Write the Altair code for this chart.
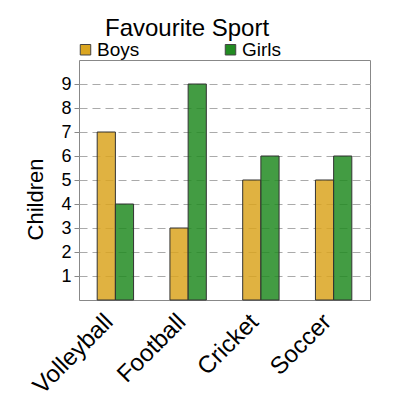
import altair as alt
import pandas as pd

sports = ["Volleyball", "Football", "Cricket", "Soccer"]
boys = [7, 3, 5, 5]
girls = [4, 9, 6, 6]
groups = ["Boys", "Girls"]
y_ticks = [1, 2, 3, 4, 5, 6, 7, 8, 9]

rows = []
for sport, b, g in zip(sports, boys, girls):
    rows.append({"Sport": sport, "Group": "Boys", "Children": b})
    rows.append({"Sport": sport, "Group": "Girls", "Children": g})
df = pd.DataFrame(rows)

font = "Liberation Sans"

chart = alt.Chart(df).mark_bar(
    fillOpacity=0.85, stroke="#333333", strokeWidth=1
).encode(
    x=alt.X("Sport:N", sort=sports, title=None,
            scale=alt.Scale(paddingInner=0.5, paddingOuter=0.25),
            axis=alt.Axis(labelAngle=-45, labelAlign="right", labelBaseline="middle",
                          labelFontSize=24, labelColor="black", labelPadding=18,
                          labelOffset=-6, labelBound=False,
                          ticks=False, domain=False, labelFont=font)),
    xOffset=alt.XOffset("Group:N", sort=groups),
    y=alt.Y("Children:Q", title="Children",
            scale=alt.Scale(domain=[0, 10], nice=False),
            axis=alt.Axis(values=y_ticks, labelFontSize=18, labelColor="black",
                          labelFont=font, tickSize=5, tickColor="#888888",
                          domain=False, labelPadding=3,
                          grid=True, gridDash=[8, 5], gridColor="#aaaaaa", gridWidth=1.2,
                          titleFontSize=22, titleFont=font, titleFontWeight="normal",
                          titleColor="black", titleAngle=-90, titleX=-44, titleY=139,
                          titleBaseline="middle", titleAlign="center")),
    color=alt.Color("Group:N", sort=groups,
                    scale=alt.Scale(domain=groups, range=["#DAA520", "#228B22"]),
                    legend=alt.Legend(title=None, orient="none", direction="horizontal",
                                      legendX=-3, legendY=-20, symbolType="square",
                                      symbolSize=110, symbolStrokeColor="#444444",
                                      symbolStrokeWidth=1, symbolOpacity=1,
                                      labelFontSize=19, labelFont=font, labelColor="black",
                                      labelOffset=2, columnPadding=81)),
).properties(
    width=291,
    height=240,
    title=alt.TitleParams("Favourite Sport", fontSize=24, font=font, fontWeight="normal",
                          color="black", anchor="start", dx=81, dy=3, offset=2),
    autosize=alt.AutoSizeParams(type="none"),
    padding={"left": 71, "top": 52, "right": 22, "bottom": 92},
).configure_view(
    stroke="#888888", strokeWidth=1
)

chart.save("out.html", embed_options={"renderer": "svg", "actions": False})
